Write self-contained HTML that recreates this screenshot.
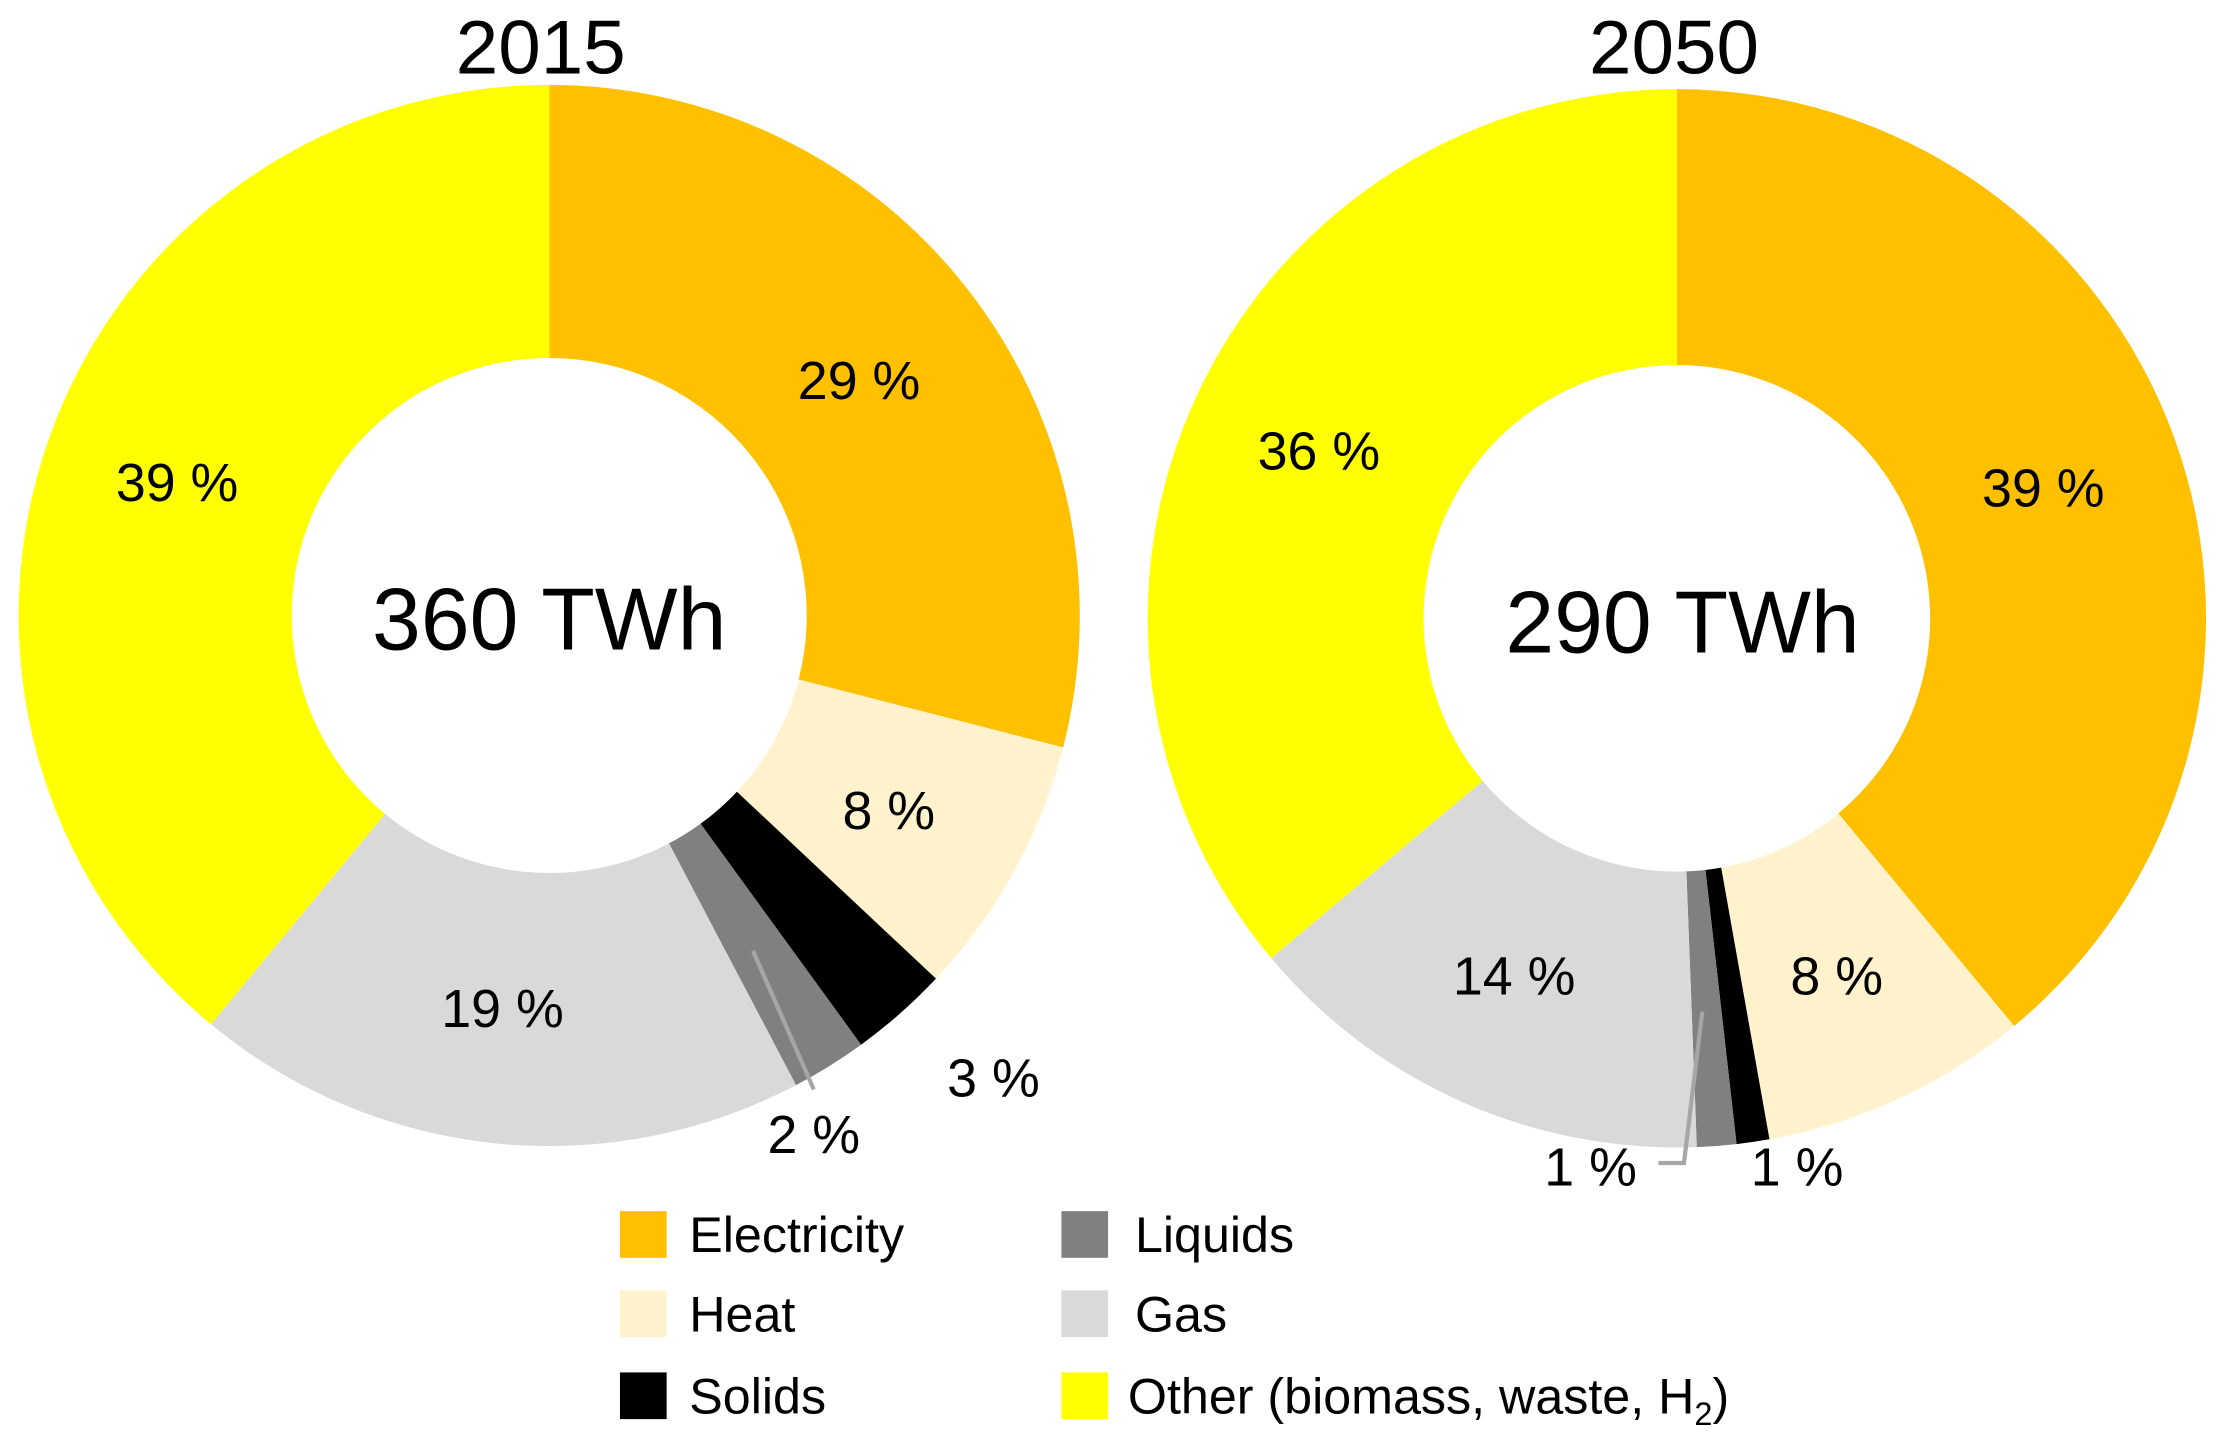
<!DOCTYPE html>
<html><head><meta charset="utf-8"><style>
html,body{margin:0;padding:0;background:#fff}
svg{display:block;font-family:"Liberation Sans",Arial,sans-serif}
</style></head><body>
<svg id="chart" width="2219" height="1446" viewBox="0 0 1568 1022">
<text x="382" y="52" font-size="54" text-anchor="middle">2015</text>
<text x="1183" y="52" font-size="54" text-anchor="middle">2050</text>
<g id="d1"></g>
<g id="d2"></g>
<text x="388" y="459" font-size="62" text-anchor="middle">360 TWh</text>
<text x="1189" y="461" font-size="62" text-anchor="middle">290 TWh</text>
<line x1="532" y1="672" x2="575" y2="770" stroke="#A6A6A6" stroke-width="3"/>
<polyline points="1203,715 1190,822 1172,822" fill="none" stroke="#A6A6A6" stroke-width="3"/>
<g id="labels" font-size="38" text-anchor="middle"></g>
<g id="legend" font-size="35.5"></g>
</svg>
<script>
const categories=["Electricity","Heat","Solids","Liquids","Gas","Other (biomass, waste, H2)"];
const colors=["#FFC000","#FFF2CC","#000000","#808080","#D9D9D9","#FFFF00"];
const values2015=[29,8,3,2.3,18.7,39];
const values2050=[39,8.2,1,1.2,14.5,36.1];
const labels2015=["29 %","8 %","3 %","2 %","19 %","39 %"];
const labels2050=["39 %","8 %","1 %","1 %","14 %","36 %"];
const NS="http://www.w3.org/2000/svg";
function pt(cx,cy,r,f){const a=f*2*Math.PI;return [cx+r*Math.sin(a),cy-r*Math.cos(a)];}
function donut(g,vals,cx,cy,ro,ri,key){
 const tot=vals.reduce((a,b)=>a+b,0);let c=0;
 vals.forEach((v,i)=>{const f0=c/tot,f1=(c+v)/tot;c+=v;
  const [x0,y0]=pt(cx,cy,ro,f0),[x1,y1]=pt(cx,cy,ro,f1),[x2,y2]=pt(cx,cy,ri,f1),[x3,y3]=pt(cx,cy,ri,f0);
  const lg=(f1-f0)>0.5?1:0;
  const p=document.createElementNS(NS,"path");
  p.setAttribute("d",`M${x0},${y0}A${ro},${ro} 0 ${lg} 1 ${x1},${y1}L${x2},${y2}A${ri},${ri} 0 ${lg} 0 ${x3},${y3}Z`);
  p.setAttribute("fill",colors[i]);
  
  
  g.appendChild(p);});
}
donut(document.getElementById("d1"),values2015,388,435,375,182,"2015");
donut(document.getElementById("d2"),values2050,1185,437,374,179,"2050");
const pos2015=[[607,282],[628,586],[702,775],[575,815],[355,726],[125,354]];
const pos2050=[[1444,358],[1298,703],[1270,838],[1124,838],[1070,703],[932,332]];
const lg=document.getElementById("labels");
function addLabels(pos,labs,key){labs.forEach((l,i)=>{const t=document.createElementNS(NS,"text");
 t.setAttribute("x",pos[i][0]);t.setAttribute("y",pos[i][1]);t.textContent=l;
 
 
 lg.appendChild(t);});}
addLabels(pos2015,labels2015,"2015");addLabels(pos2050,labels2050,"2050");
const leg=document.getElementById("legend");
const lp=[[438,856,487],[438,912,487],[438,970,487],[750,856,802],[750,912,802],[750,970,797]];
const order=[0,1,2,3,4,5];
order.forEach((ci,k)=>{const [sx,sy,tx]=lp[k];
 const r=document.createElementNS(NS,"rect");r.setAttribute("x",sx);r.setAttribute("y",sy);r.setAttribute("width",33);r.setAttribute("height",33);r.setAttribute("fill",colors[ci]);
 
 
 leg.appendChild(r);
 const t=document.createElementNS(NS,"text");t.setAttribute("x",tx);t.setAttribute("y",sy+29);
 if(ci===5){t.innerHTML='Other (biomass, waste, H<tspan font-size="23" dy="8">2</tspan><tspan dy="-8">)</tspan>';}else t.textContent=categories[ci];
 
 
 leg.appendChild(t);});
</script>
</body></html>
